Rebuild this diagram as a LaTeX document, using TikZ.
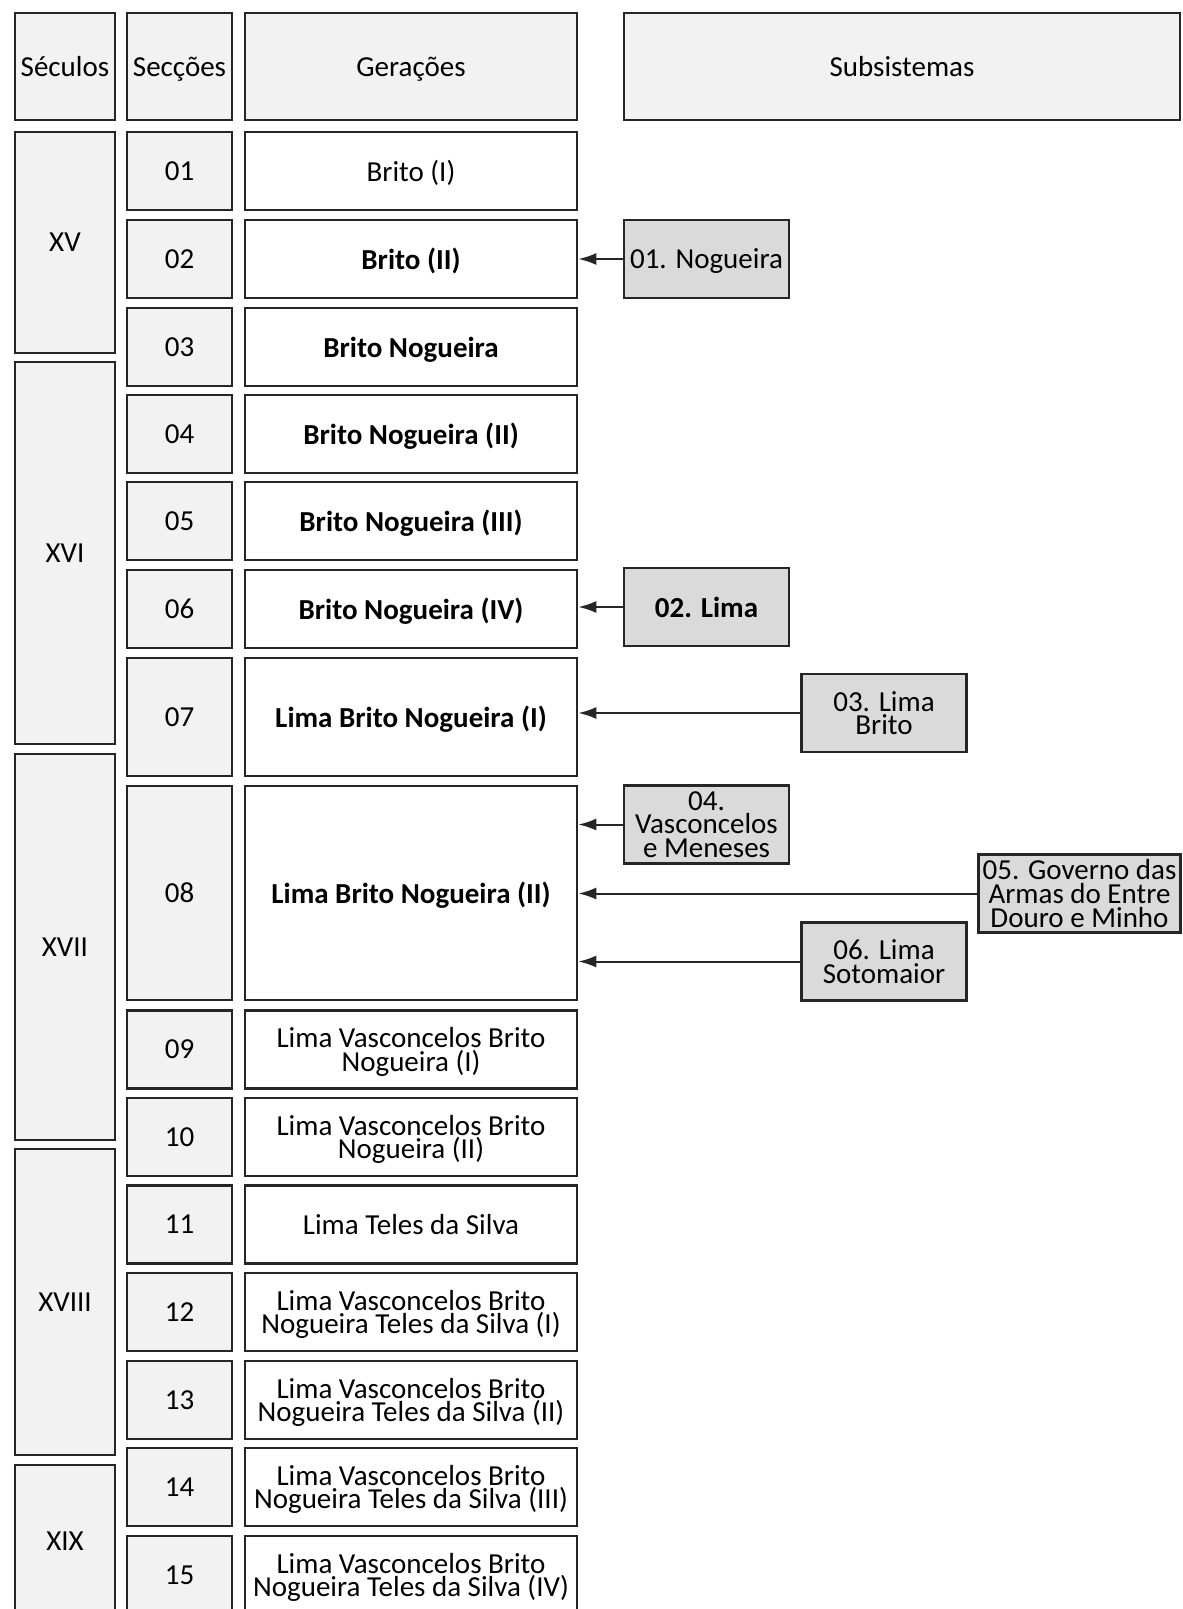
\documentclass[tikz,border=0pt]{standalone}
\usepackage{fontspec}
\setmainfont{Carlito}
\usetikzlibrary{arrows.meta}
\definecolor{lightg}{HTML}{F2F2F2}
\definecolor{darkg}{HTML}{DADADA}
\definecolor{linec}{HTML}{262626}
\begin{document}
\begin{tikzpicture}[x=0.5pt, y=-0.5pt,
	box/.style={draw=linec, line width=1.3pt, inner sep=0pt, text depth=-2.4pt, align=center, font=\fontsize{14.5}{11.8}\selectfont},
	cabec/.style={box, fill=lightg, minimum height=53.5pt},
	seculo/.style={box, fill=lightg, minimum width=50pt},
	seccao/.style={box, fill=lightg, minimum width=52.5pt, minimum height=39pt},
	geracao/.style={box, fill=white, minimum width=166pt, minimum height=39pt},
	subsis/.style={box, fill=darkg, minimum width=82.5pt, minimum height=39pt},
	liga/.style={draw=linec, line width=1pt, -{Latex[length=9pt,width=6pt]}}]
	\useasboundingbox (0,0) rectangle (1182,1609);

	\node [cabec, minimum width=50pt] (hsec) at (65,66.5) {Séculos};
	\node [cabec, minimum width=52.5pt] (hsc) at (179.5,66.5) {Secções};
	\node [cabec, minimum width=166pt] (hger) at (411,66.5) {Gerações};
	\node [cabec, minimum width=278pt] (hsub) at (902,66.5) {Subsistemas};

	\node [seculo, minimum height=110.5pt] (xv) at (65,242.5) {XV};
	\node [seculo, minimum height=191pt] (xvi) at (65,553) {XVI};
	\node [seculo, minimum height=193pt] (xvii) at (65,947) {XVII};
	\node [seculo, minimum height=153pt] (xviii) at (65,1302) {XVIII};
	\node [seculo, minimum height=76pt] (xix) at (65,1541) {XIX};

	\node [seccao] (c01) at (179.5,171) {01};
	\node [geracao] (g01) at (411,171) {Brito (I)};
	\node [seccao] (c02) at (179.5,259) {02};
	\node [geracao] (g02) at (411,259) {\textbf{Brito (II)}};
	\node [seccao] (c03) at (179.5,347) {03};
	\node [geracao] (g03) at (411,347) {\textbf{Brito Nogueira}};
	\node [seccao] (c04) at (179.5,434) {04};
	\node [geracao] (g04) at (411,434) {\textbf{Brito Nogueira (II)}};
	\node [seccao] (c05) at (179.5,521) {05};
	\node [geracao] (g05) at (411,521) {\textbf{Brito Nogueira (III)}};
	\node [seccao] (c06) at (179.5,609) {06};
	\node [geracao] (g06) at (411,609) {\textbf{Brito Nogueira (IV)}};
	\node [seccao, minimum height=59pt] (c07) at (179.5,717) {07};
	\node [geracao, minimum height=59pt] (g07) at (411,717) {\textbf{Lima Brito Nogueira (I)}};
	\node [seccao, minimum height=107pt] (c08) at (179.5,893) {08};
	\node [geracao, minimum height=107pt] (g08) at (411,893) {\textbf{Lima Brito Nogueira (II)}};
	\node [seccao] (c09) at (179.5,1049.5) {09};
	\node [geracao] (g09) at (411,1049.5) {Lima Vasconcelos Brito\\Nogueira (I)};
	\node [seccao] (c10) at (179.5,1137) {10};
	\node [geracao] (g10) at (411,1137) {Lima Vasconcelos Brito\\Nogueira (II)};
	\node [seccao] (c11) at (179.5,1224.5) {11};
	\node [geracao] (g11) at (411,1224.5) {Lima Teles da Silva};
	\node [seccao] (c12) at (179.5,1312) {12};
	\node [geracao] (g12) at (411,1312) {Lima Vasconcelos Brito\\Nogueira Teles da Silva (I)};
	\node [seccao] (c13) at (179.5,1400) {13};
	\node [geracao] (g13) at (411,1400) {Lima Vasconcelos Brito\\Nogueira Teles da Silva (II)};
	\node [seccao] (c14) at (179.5,1487) {14};
	\node [geracao] (g14) at (411,1487) {Lima Vasconcelos Brito\\Nogueira Teles da Silva (III)};
	\node [seccao] (c15) at (179.5,1575) {15};
	\node [geracao] (g15) at (411,1575) {Lima Vasconcelos Brito\\Nogueira Teles da Silva (IV)};

	\node [subsis] (s01) at (706.5,259) {01. Nogueira};
	\draw [liga] (s01.west) -- (s01.west -| g02.east);
	\node [subsis] (s02) at (706.5,607) {\textbf{02. Lima}};
	\draw [liga] (s02.west) -- (s02.west -| g06.east);
	\node [subsis] (s03) at (884,713) {03. Lima\\Brito};
	\draw [liga] (s03.west) -- (s03.west -| g07.east);
	\node [subsis] (s04) at (706.5,824.5) {04.\\Vasconcelos\\e Meneses};
	\draw [liga] (s04.west) -- (s04.west -| g08.east);
	\node [subsis, minimum width=101pt] (s05) at (1079.5,893.5) {05. Governo das\\Armas do Entre\\Douro e Minho};
	\draw [liga] (s05.west) -- (s05.west -| g08.east);
	\node [subsis] (s06) at (884,961.5) {06. Lima\\Sotomaior};
	\draw [liga] (s06.west) -- (s06.west -| g08.east);
\end{tikzpicture}
\end{document}
